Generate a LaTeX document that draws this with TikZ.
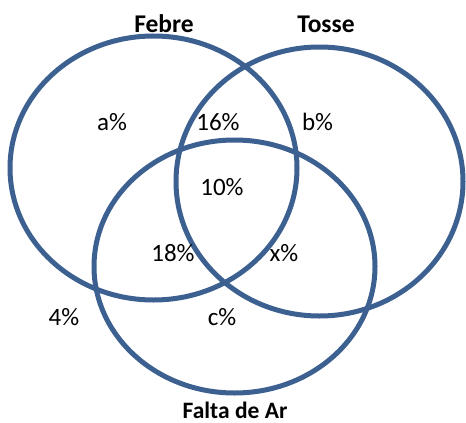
\documentclass[tikz,border=0pt]{standalone}
\usepackage{fontspec}
\setmainfont{Carlito}
\definecolor{vennblue}{HTML}{3C6090}
\begin{document}
\begin{tikzpicture}[x=1pt,y=-1pt,
  ring/.style={draw=vennblue,line width=5pt},
  lbl/.style={inner sep=0pt,anchor=base,font=\fontsize{25}{30}\selectfont},
  ttl/.style={inner sep=0pt,anchor=base,font=\fontsize{25.5}{30}\selectfont\bfseries}]
\useasboundingbox[fill=white] (0,0) rectangle (466,423);
\draw[ring] (153.5,168) ellipse [x radius=143.5,y radius=132];
\draw[ring] (319.5,181.5) ellipse [x radius=143.5,y radius=134.5];
\draw[ring] (234.5,266.5) ellipse [x radius=140.5,y radius=126.5];
\node[ttl] (febre) at (164,32) {Febre};
\node[ttl] (tosse) at (326,32) {Tosse};
\node[ttl,font=\fontsize{23.5}{28}\selectfont\bfseries] (ar) at (235,418) {Falta de Ar};
\node[lbl] (a) at (112,130) {a\%};
\node[lbl] (ft) at (218,130) {16\%};
\node[lbl] (b) at (317.5,130) {b\%};
\node[lbl] (all) at (222,195) {10\%};
\node[lbl] (fa) at (173,261) {18\%};
\node[lbl] (x) at (284,261) {x\%};
\node[lbl] (none) at (64,325) {4\%};
\node[lbl] (c) at (222,325) {c\%};
\end{tikzpicture}
\end{document}
